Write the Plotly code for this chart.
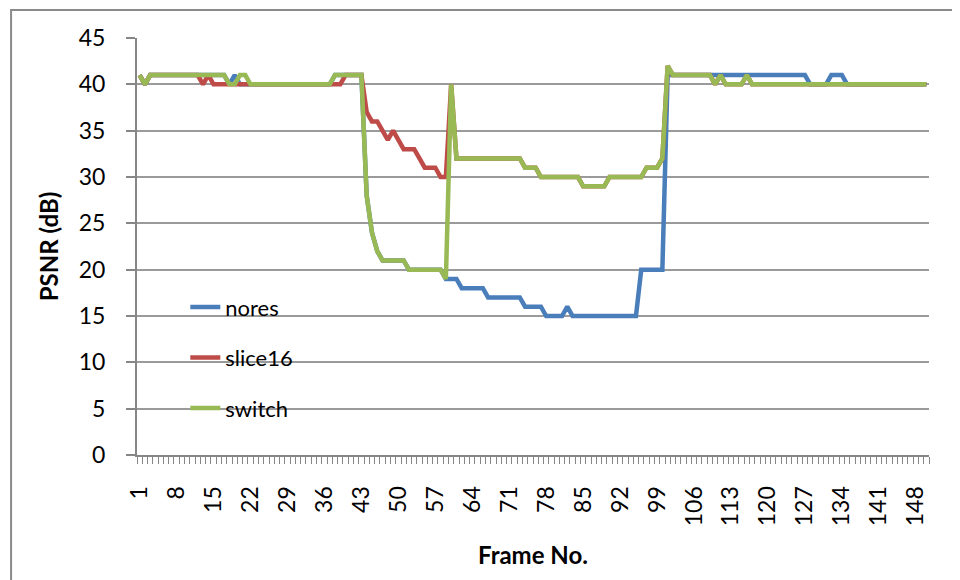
import plotly.graph_objects as go

frames = list(range(1, 151))

# switch (green)
switch = ([41, 40] + [41] * 15 + [40, 40, 41, 41] + [40] * 16 + [41] * 6 +
          [28, 24, 22] + [21] * 5 + [20] * 7 + [19, 40] + [32] * 13 + [31] * 3 +
          [30] * 8 + [29] * 5 + [30] * 7 + [31] * 3 + [32, 42] + [41] * 8 +
          [40, 41] + [40] * 4 + [41] + [40] * 34)

# slice16 (red)
slice16 = ([41, 40] + [41] * 10 + [40, 41] + [40] * 25 + [41] * 4 +
           [37, 36, 36, 35, 34, 35, 34, 33, 33, 33, 32, 31, 31, 31, 30, 30, 40] +
           switch[60:])

# nores (blue)
nores = ([41, 40] + [41] * 15 + [40, 41] + [40] * 18 + [41] * 6 +
         switch[43:59] + [19, 19] + [18] * 5 + [17] * 7 + [16] * 4 + [15] * 4 +
         [16] + [15] * 13 + [20] * 5 + [41] * 27 + [40] * 4 + [41] * 3 + [40] * 16)

series = [("nores", nores, "#4A7EBB"), ("slice16", slice16, "#BE4B48"), ("switch", switch, "#98B954")]

xtick_vals = list(range(1, 151, 7))
xtick_text = [str(v) for v in xtick_vals]
ytick_vals = list(range(0, 46, 5))

FONT = "Lato"

fig = go.Figure()
for i, (name, vals, col) in enumerate(series):
    fig.add_trace(go.Scatter(x=frames, y=vals, mode="lines", name=name,
                             legendgroup=name,
                             line=dict(color=col, width=4.5)))

fig.update_layout(
    width=960, height=580,
    margin=dict(l=129, r=39, t=30, b=133),
    paper_bgcolor="white", plot_bgcolor="white",
    font=dict(family=FONT, size=22, color="black"),
    showlegend=True,
    legend=dict(x=0.061, y=0.405, xanchor="left", yanchor="top",
                bgcolor="rgba(0,0,0,0)", font=dict(family=FONT, size=22),
                traceorder="grouped", tracegroupgap=19),
    shapes=[dict(type="rect", xref="paper", yref="paper",
                 x0=-0.159, x1=1.2, y0=-0.5, y1=1.067,
                 line=dict(color="#8A8A8A", width=2), layer="below")],
)

fig.update_xaxes(
    range=[0.5, 150.5], tickmode="array", tickvals=xtick_vals, ticktext=xtick_text,
    tickangle=-90, ticks="", showgrid=False, zeroline=False,
    showline=True, linecolor="#868686", linewidth=2,
    tickfont=dict(family=FONT, size=23), ticklabelstandoff=20,
    minor=dict(tickmode="linear", tick0=0.5, dtick=1, ticks="outside",
               ticklen=7, tickcolor="#868686", tickwidth=1, showgrid=False),
    title=dict(text="Frame No.", font=dict(family=FONT, size=24, weight="bold"), standoff=22),
)
fig.update_yaxes(
    range=[0, 45], tickmode="array", tickvals=ytick_vals,
    ticks="outside", ticklen=9, tickcolor="#868686", tickwidth=1.5,
    showgrid=True, gridcolor="#9A9A9A", gridwidth=1.5, zeroline=False,
    showline=True, linecolor="#868686", linewidth=2,
    tickfont=dict(family=FONT, size=23), ticklabelstandoff=16,
    title=dict(text="PSNR (dB)", font=dict(family=FONT, size=24, weight="bold"), standoff=13),
)

fig.write_html("out.html")
